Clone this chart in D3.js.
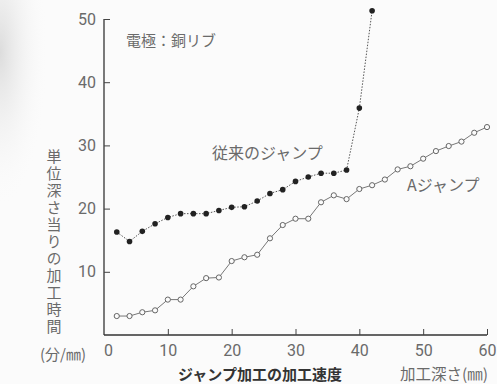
<!DOCTYPE html>
<html><head><meta charset="utf-8">
<script src="https://cdn.jsdelivr.net/npm/d3@7"></script>
<style>
html,body{margin:0;padding:0;background:#fbfbfb;}
svg{display:block;}
</style></head>
<body>
<script>
const depthsA = [2,4,6,8,10,12,14,16,18,20,22,24,26,28,30,32,34,36,38,40,42,44,46,48,50,52,54,56,58,60];
const timeA = [3.0,3.0,3.6,3.9,5.6,5.6,7.7,9.0,9.1,11.7,12.3,12.7,15.3,17.4,18.4,18.4,21.0,22.1,21.5,23.1,23.7,24.6,26.2,26.7,27.9,29.1,29.9,30.6,32.0,32.9];
const depthsConv = [2,4,6,8,10,12,14,16,18,20,22,24,26,28,30,32,34,36,38,40,42];
const timeConv = [16.3,14.8,16.4,17.6,18.6,19.2,19.2,19.2,19.7,20.2,20.3,21.2,22.4,23.0,24.3,25.0,25.6,25.6,26.1,35.9,51.3];
const xTicks = [0,10,20,30,40,50,60];
const yTicks = [10,20,30,40,50];

const W = 497, H = 384;
const svg = d3.select("body").append("svg").attr("width", W).attr("height", H);

// paper shading at left
const defs = svg.append("defs");
const g1 = defs.append("radialGradient").attr("id","shade").attr("cx","0").attr("cy","0.2").attr("r","0.6");
g1.append("stop").attr("offset","0").attr("stop-color","#dcdcdc");
g1.append("stop").attr("offset","1").attr("stop-color","#fbfbfb").attr("stop-opacity",0);
svg.append("rect").attr("x",0).attr("y",0).attr("width",80).attr("height",260).attr("fill","url(#shade)");

const x = d3.scaleLinear().domain([0,60]).range([104,487]);
const y = d3.scaleLinear().domain([0,50]).range([335,19]);

const font = "'Liberation Sans Narrow','Roboto','DejaVu Sans Condensed',sans-serif";
const jp = "'Noto Sans CJK JP',sans-serif";

// axes
const xAxis = d3.axisBottom(x).tickValues(xTicks).tickSize(-6).tickPadding(10).tickFormat(d3.format("d"));
const gx = svg.append("g").attr("transform",`translate(0,${y(0)})`).call(xAxis);
gx.select(".domain").attr("d",`M${x(0)},0H${x(60)}`).attr("stroke","#333").attr("stroke-width",1.3);
gx.selectAll(".tick line").attr("stroke","#444");
gx.selectAll(".tick").filter(d=>d===0).select("line").remove();
gx.selectAll("text").attr("font-family",font).attr("font-size",16).attr("fill","#6a6a6a");
gx.selectAll(".tick").filter(d=>d===0).select("text").attr("dx",4);

const yAxis = d3.axisLeft(y).tickValues(yTicks).tickSize(-6).tickPadding(8).tickFormat(d3.format("d"));
const gy = svg.append("g").attr("transform",`translate(${x(0)},0)`).call(yAxis);
gy.select(".domain").attr("d",`M0,${y(50)}V${y(0)}`).attr("stroke","#333").attr("stroke-width",1.3);
gy.selectAll(".tick line").attr("stroke","#444");
gy.selectAll("text").attr("font-family",font).attr("font-size",16).attr("fill","#6a6a6a");

// lines
const line = d3.line().x(d=>x(d[0])).y(d=>y(d[1]));
const dataA = depthsA.map((d,i)=>[d,timeA[i]]);
const dataC = depthsConv.map((d,i)=>[d,timeConv[i]]);

svg.append("path").datum(dataA).attr("d",line).attr("fill","none").attr("stroke","#777").attr("stroke-width",1);
svg.append("path").datum(dataC).attr("d",line).attr("fill","none").attr("stroke","#555").attr("stroke-width",1).attr("stroke-dasharray","1.5,1.5");

svg.selectAll("circle.a").data(dataA).enter().append("circle").attr("class","a")
  .attr("cx",d=>x(d[0])).attr("cy",d=>y(d[1])).attr("r",2.6)
  .attr("fill","#fbfbfb").attr("stroke","#666").attr("stroke-width",1);
svg.selectAll("circle.c").data(dataC).enter().append("circle").attr("class","c")
  .attr("cx",d=>x(d[0])).attr("cy",d=>y(d[1])).attr("r",2.8)
  .attr("fill","#222");

// texts
const t = (s,xx,yy,opts={}) => svg.append("text").attr("x",xx).attr("y",yy).text(s)
  .attr("font-family",opts.ff||jp).attr("font-size",opts.fs||15).attr("fill",opts.fill||"#6a6a6a")
  .attr("font-weight",opts.fw||"normal").attr("text-anchor",opts.anchor||"start");

t("電極：銅リブ",126,46,{fs:15});
t("従来のジャンプ",212,159,{fs:16});
t("Aジャンプ",407,191,{fs:16});
t("(分/㎜)",40,360,{fs:15});
t("ジャンプ加工の加工速度",260,380,{fs:15,fw:"bold",fill:"#333",anchor:"middle"});
t("加工深さ(㎜)",400,380,{fs:15.5});

svg.append("text").attr("x",54).attr("y",149)
  .attr("font-family",jp).attr("font-size",15).attr("fill","#6a6a6a")
  .attr("writing-mode","vertical-rl").attr("letter-spacing",2)
  .text("単位深さ当りの加工時間");
</script>
</body></html>
